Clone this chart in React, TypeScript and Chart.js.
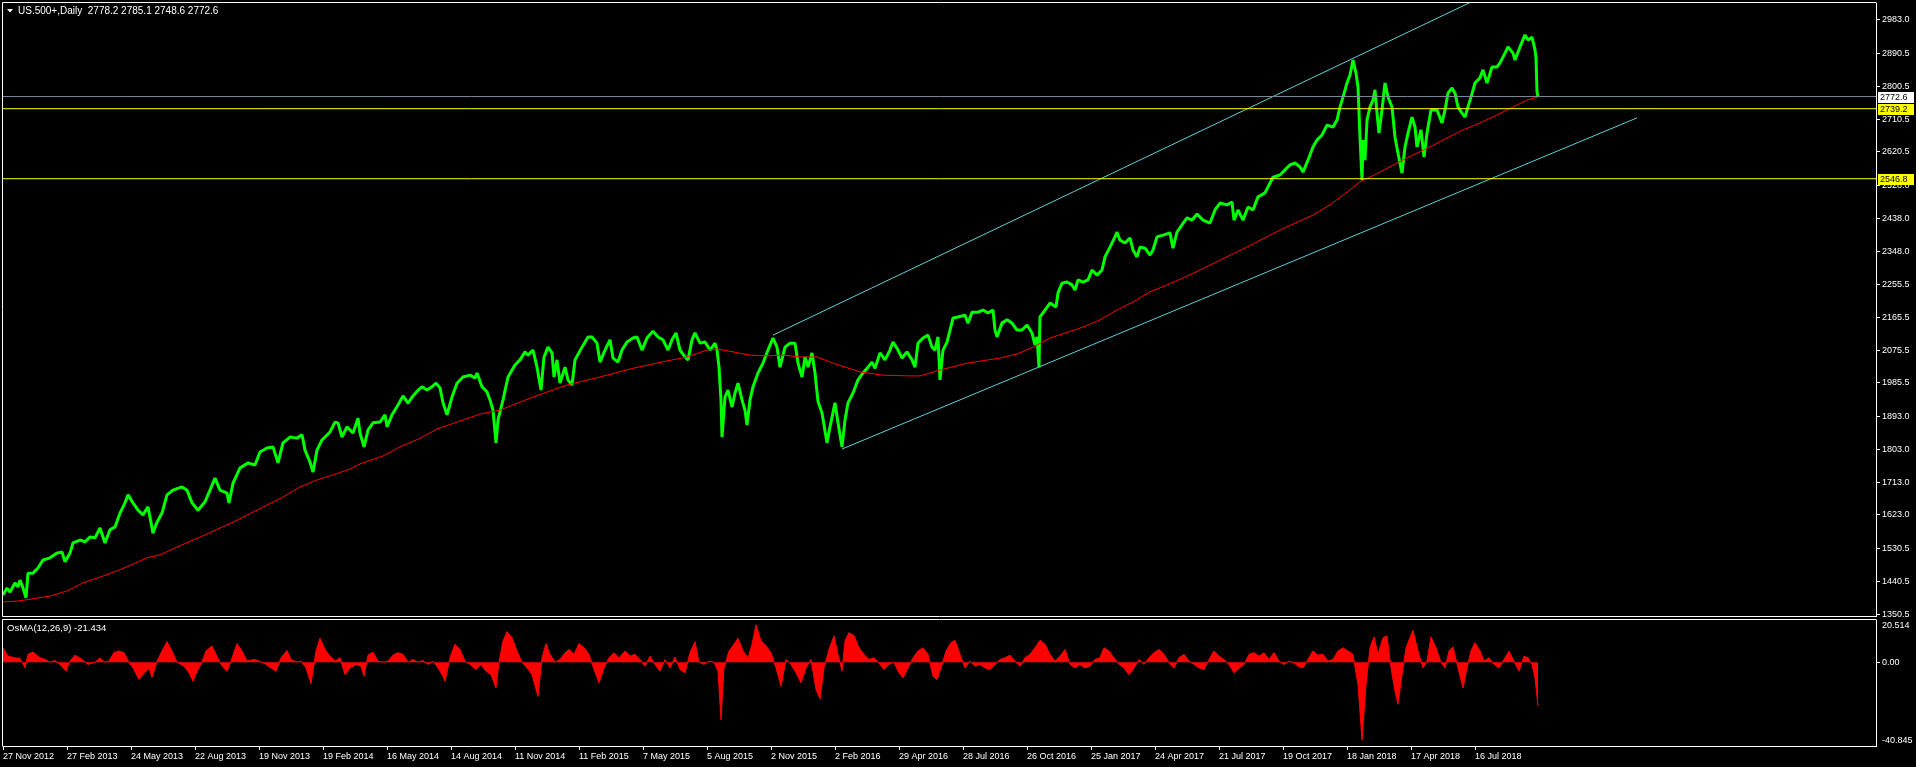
import React, { useEffect, useRef } from 'react';
import { Chart, registerables } from 'chart.js';

Chart.register(...registerables);

// ---------- data ----------
const symbolName = 'US.500+,Daily';
const headerOHLC = [2778.2, 2785.1, 2748.6, 2772.6];
const osmaName = 'OsMA(12,26,9)';
const osmaLast = -21.434;

// bar index (0 = 27 Nov 2012) and close
const priceBar = [
  0, 4, 7, 12, 15, 17, 20, 23, 25, 30, 35, 40, 47, 54, 59, 62, 67, 70, 77, 82, 87, 92, 97, 102, 107, 112, 117, 122, 125, 130,
  135, 140, 145, 150, 154, 159, 164, 170, 179, 184, 189, 195, 202, 207, 212, 217, 224, 226, 230, 237, 245, 252, 257, 264, 270,
  275, 280, 287, 294, 299, 302, 307, 310, 314, 319, 327, 332, 335, 339, 344, 350, 355, 357, 361, 365, 370, 377, 382, 384, 389,
  395, 400, 405, 410, 416, 419, 424, 429, 433, 437, 440, 444, 449, 454, 460, 467, 472, 474, 479, 484, 487, 490, 493, 495, 500,
  505, 512, 517, 522, 525, 530, 534, 538, 541, 545, 549, 551, 554, 557, 562, 565, 569, 572, 579, 585, 589, 594, 597, 602, 607,
  610, 615, 619, 624, 630, 634, 639, 644, 650, 655, 660, 665, 669, 673, 677, 682, 685, 689, 692, 697, 702, 707, 712, 714, 716,
  718, 719, 722, 725, 729, 732, 735, 739, 742, 744, 747, 750, 755, 760, 765, 770, 774, 777, 782, 787, 792, 795, 799, 802, 805,
  809, 812, 815, 819, 824, 827, 832, 835, 839, 842, 845, 850, 855, 860, 865, 869, 872, 877, 882, 887, 890, 895, 899, 904, 909,
  912, 915, 920, 925, 929, 932, 935, 937, 940, 944, 947, 950, 955, 962, 965, 969, 975, 980, 985, 990, 992, 994, 999, 1004, 1009,
  1014, 1019, 1024, 1029, 1032, 1034, 1036, 1037, 1042, 1047, 1053, 1055, 1059, 1064, 1069, 1072, 1075, 1080, 1085, 1089, 1094,
  1099, 1102, 1107, 1112, 1114, 1117, 1122, 1127, 1130, 1134, 1137, 1142, 1147, 1150, 1154, 1160, 1167, 1170, 1174, 1179, 1184,
  1189, 1194, 1200, 1207, 1212, 1217, 1224, 1229, 1231, 1235, 1240, 1245, 1250, 1255, 1262, 1265, 1270, 1277, 1282, 1287, 1292,
  1297, 1300, 1305, 1310, 1314, 1319, 1324, 1330, 1334, 1337, 1340, 1344, 1347, 1350, 1353, 1355, 1357, 1359, 1360, 1362, 1364,
  1367, 1370, 1372, 1374, 1376, 1379, 1382, 1385, 1389, 1390, 1392, 1395, 1399, 1402, 1405, 1409, 1412, 1414, 1418, 1421, 1424,
  1428, 1434, 1439, 1442, 1445, 1449, 1452, 1455, 1459, 1462, 1464, 1468, 1472, 1477, 1480, 1484, 1489, 1494, 1497, 1502, 1505,
  1510, 1512, 1517, 1522, 1525, 1529, 1532, 1533, 1534, 1535,
];
const priceClose = [
  1403, 1422, 1411, 1436, 1425, 1444, 1422, 1395, 1463, 1463, 1477, 1499, 1505, 1518, 1521, 1494, 1518, 1546, 1554, 1549, 1562,
  1560, 1587, 1546, 1582, 1590, 1628, 1656, 1678, 1656, 1636, 1623, 1645, 1573, 1603, 1628, 1678, 1691, 1700, 1691, 1656, 1636,
  1659, 1691, 1724, 1691, 1683, 1656, 1710, 1752, 1766, 1760, 1796, 1807, 1810, 1766, 1821, 1837, 1834, 1843, 1801, 1768, 1741,
  1801, 1829, 1851, 1878, 1876, 1837, 1865, 1848, 1889, 1848, 1810, 1856, 1876, 1878, 1898, 1865, 1898, 1925, 1950, 1930, 1950,
  1968, 1975, 1966, 1975, 1985, 1972, 1931, 1898, 1947, 1985, 2002, 2007, 1999, 2013, 1975, 1961, 1939, 1911, 1821, 1884, 1939,
  2002, 2035, 2049, 2071, 2062, 2076, 2029, 1966, 2057, 2084, 2068, 2002, 2049, 1985, 2029, 1994, 1980, 2049, 2084, 2112, 2112,
  2095, 2043, 2076, 2104, 2054, 2043, 2076, 2098, 2109, 2112, 2076, 2109, 2128, 2112, 2104, 2076, 2104, 2123, 2076, 2057, 2049,
  2104, 2123, 2095, 2098, 2076, 2095, 2076, 2029, 1939, 1837, 1947, 1966, 1920, 1958, 1985, 1939, 1911, 1870, 1939, 1975, 2013,
  2040, 2076, 2109, 2084, 2029, 2084, 2095, 2095, 2040, 2002, 2057, 2029, 2068, 2013, 1935, 1903, 1821, 1865, 1931, 1876, 1810,
  1884, 1931, 1958, 1994, 2013, 2029, 2043, 2026, 2068, 2049, 2076, 2098, 2076, 2054, 2071, 2049, 2029, 2095, 2109, 2117, 2084,
  2076, 2112, 1994, 2076, 2098, 2131, 2164, 2167, 2172, 2150, 2180, 2180, 2186, 2178, 2186, 2131, 2112, 2150, 2159, 2150, 2131,
  2131, 2145, 2123, 2090, 2112, 2029, 2167, 2186, 2205, 2194, 2233, 2260, 2263, 2255, 2241, 2269, 2263, 2269, 2296, 2282, 2296,
  2332, 2359, 2387, 2400, 2378, 2370, 2384, 2351, 2332, 2359, 2356, 2337, 2351, 2387, 2392, 2398, 2356, 2400, 2420, 2439, 2433,
  2450, 2433, 2425, 2461, 2480, 2475, 2483, 2433, 2461, 2433, 2469, 2461, 2497, 2508, 2524, 2551, 2557, 2571, 2585, 2590, 2579,
  2565, 2598, 2634, 2653, 2667, 2694, 2689, 2708, 2744, 2771, 2810, 2832, 2873, 2837, 2799, 2661, 2543, 2653, 2598, 2708, 2744,
  2763, 2791, 2727, 2672, 2736, 2810, 2771, 2744, 2716, 2661, 2617, 2562, 2634, 2672, 2716, 2689, 2634, 2681, 2606, 2672, 2736,
  2736, 2700, 2736, 2782, 2796, 2782, 2744, 2727, 2716, 2736, 2771, 2810, 2824, 2846, 2810, 2854, 2854, 2865, 2892, 2909, 2892,
  2873, 2909, 2942, 2928, 2936, 2901, 2880, 2785, 2772.6,
];

// moving average (red)
const maBar = [
  0, 14, 29, 47, 64, 80, 97, 114, 130, 144, 157, 174, 197, 230, 264, 280, 297, 314, 330, 347, 357, 380, 397, 416, 434, 477, 497,
  530, 564, 597, 630, 664, 684, 704, 714, 730, 747, 764, 780, 797, 814, 830, 857, 880, 907, 917, 937, 964, 997, 1014, 1030, 1047,
  1080, 1097, 1114, 1130, 1147, 1164, 1180, 1197, 1217, 1244, 1277, 1310, 1327, 1344, 1357, 1377, 1394, 1410, 1427, 1444, 1460,
  1477, 1494, 1510, 1524, 1535,
];
const maValue = [
  1384, 1386, 1392, 1400, 1414, 1436, 1452, 1469, 1488, 1505, 1513, 1535, 1562, 1603, 1650, 1672, 1700, 1719, 1733, 1749, 1763,
  1785, 1810, 1832, 1859, 1900, 1911, 1947, 1980, 2002, 2026, 2046, 2057, 2076, 2079, 2071, 2062, 2060, 2062, 2057, 2057, 2040,
  2016, 2007, 2005, 2005, 2021, 2040, 2054, 2065, 2084, 2109, 2139, 2159, 2186, 2208, 2236, 2255, 2274, 2296, 2323, 2359, 2406,
  2447, 2475, 2510, 2538, 2565, 2590, 2612, 2634, 2659, 2681, 2700, 2722, 2744, 2763, 2771,
];

// OsMA histogram
const osmaBar = [
  0, 5, 12, 17, 22, 25, 30, 37, 42, 47, 52, 57, 63, 67, 72, 79, 85, 92, 97, 101, 106, 111, 116, 121, 126, 131, 136, 141, 146, 149,
  154, 159, 164, 169, 174, 181, 186, 190, 194, 198, 203, 209, 213, 218, 224, 228, 234, 239, 244, 251, 256, 262, 268, 273, 278, 284,
  288, 294, 298, 303, 308, 313, 317, 322, 327, 332, 337, 342, 347, 353, 358, 361, 365, 370, 375, 381, 385, 390, 395, 400, 405, 410,
  415, 420, 425, 430, 435, 440, 442, 447, 452, 457, 462, 467, 473, 478, 483, 488, 493, 496, 500, 504, 509, 514, 519, 524, 529, 535,
  539, 543, 547, 552, 557, 561, 566, 571, 576, 581, 586, 591, 596, 601, 606, 611, 616, 622, 627, 632, 637, 642, 647, 652, 657, 662,
  667, 672, 677, 682, 687, 692, 696, 701, 706, 711, 715, 718, 721, 726, 731, 735, 740, 745, 749, 753, 758, 763, 768, 773, 778, 783,
  788, 793, 798, 803, 808, 813, 817, 821, 826, 831, 835, 839, 842, 846, 851, 856, 861, 866, 871, 877, 881, 886, 891, 895, 900, 905,
  910, 915, 920, 925, 930, 934, 938, 943, 948, 952, 957, 962, 967, 972, 977, 982, 987, 992, 997, 1002, 1007, 1012, 1017, 1022, 1027,
  1032, 1037, 1042, 1047, 1052, 1057, 1062, 1067, 1072, 1077, 1082, 1087, 1092, 1097, 1101, 1106, 1111, 1116, 1121, 1126, 1131,
  1136, 1141, 1146, 1151, 1156, 1161, 1166, 1171, 1176, 1181, 1186, 1191, 1196, 1201, 1206, 1211, 1216, 1221, 1226, 1231, 1236,
  1241, 1246, 1251, 1256, 1261, 1266, 1271, 1276, 1281, 1286, 1291, 1295, 1300, 1305, 1310, 1315, 1320, 1325, 1330, 1335, 1340,
  1345, 1350, 1355, 1359, 1363, 1367, 1371, 1375, 1380, 1384, 1388, 1392, 1395, 1399, 1403, 1407, 1410, 1415, 1420, 1424, 1428,
  1433, 1438, 1442, 1446, 1450, 1455, 1460, 1464, 1468, 1472, 1477, 1481, 1486, 1491, 1496, 1501, 1506, 1511, 1516, 1521, 1525,
  1529, 1532, 1535,
];
const osmaValue = [
  7.0, 2.9, 2.1, 1.8, -2.8, 3.8, 4.9, 2.1, 1.3, 0, 0.8, -1.1, -4.4, 0.5, 3.4, 1.3, -1.1, 0, 2.1, 0, 0.5, 4.6, 5.4, 4.6, 0, -3.6,
  -8.5, -5.2, -2.8, -7.4, 0.5, 5.4, 10.0, 5.4, 0, -2.0, -5.2, -9.3, -4.4, -1.1, 5.4, 7.9, 3.8, -1.1, -4.4, 0.5, 9.0, 5.4, 0.5,
  1.3, 0.5, -0.8, -2.8, -4.4, 2.1, 5.7, 1.3, 0, 0.5, -2.8, -10.5, 5.4, 11.6, 6.2, 2.9, 0.5, 2.1, -6.1, -2.8, -1.1, -2.0, -6.9,
  3.4, 4.9, 0.5, 0, 0.5, 3.4, 4.6, 3.8, 0, 1.3, 0, 0.8, -1.1, 0.5, -2.8, -6.9, -9.3, 2.1, 8.7, 6.2, 0.5, -1.1, -3.6, -1.1, -4.4,
  -6.1, -12.6, 0, 10.3, 14.9, 11.9, 5.4, 0, -2.8, -6.1, -16.7, 2.1, 9.0, 3.8, 0, 1.3, 4.1, 6.2, 3.8, 9.0, 7.0, 3.8, -3.6, -10.1,
  -2.8, 2.1, 4.6, 2.1, 5.4, 2.9, 3.8, 1.3, -2.0, 2.9, -1.1, -4.4, 1.3, -2.8, 2.5, -3.6, -5.2, 4.6, 10.0, 0, -1.1, 0.5, 0, -4.4,
  -28.1, -2.8, 5.4, 8.7, 11.6, 5.4, 2.1, 8.7, 18.2, 10.3, 7.9, 4.6, -2.8, -11.8, 1.3, -1.1, -5.2, -10.1, -2.8, 1.3, -13.4, -18.0,
  -2.8, 6.2, 12.8, 3.8, -4.4, 10.3, 14.4, 12.8, 7.0, 3.8, 1.3, 2.1, -1.1, -3.6, -1.1, 0, -4.4, -7.7, -2.8, 2.1, 5.4, 7.0, 3.8,
  -6.9, -8.5, -2.8, 5.4, 9.5, 10.6, 3.8, -2.8, 0.5, -2.0, -1.1, -2.8, -3.6, -1.1, 1.3, 2.1, 3.4, 0.5, -2.0, 2.1, 3.8, 7.0, 10.6,
  8.7, 3.8, 0.5, 2.9, 6.2, -1.1, -2.8, -1.1, -2.8, -2.0, 1.3, 2.1, 7.0, 5.4, 2.1, -1.1, -2.8, -6.1, -2.8, 1.3, -1.1, 2.1, 4.6,
  6.2, 3.8, -0.3, -2.8, 2.1, 3.8, 0.5, -1.1, -2.8, -3.6, 1.3, 5.4, 2.9, 1.3, -1.1, -5.2, -2.8, -1.1, 3.8, 4.6, 2.9, 4.6, 1.3,
  4.6, 0.5, -1.1, 0.5, -0.3, -2.0, -2.8, 1.3, 5.4, 3.4, 3.8, 0.5, 1.3, 5.4, 7.0, 5.4, 3.8, -11.0, -38.0, -11.0, 7.0, 12.3, 3.8,
  11.9, 12.8, -2.8, -14.2, -20.5, -6.1, 7.0, 11.9, 15.5, 5.4, -2.8, 0.5, 12.3, 7.0, 0, -2.8, 5.4, 7.4, -2.8, -12.6, -2.8, 5.4,
  9.5, 5.4, 0.5, 2.1, -1.1, -2.8, 1.3, 5.4, 0.5, -4.4, 2.9, 2.1, -1.1, -7.7, -21.4,
];

// trend lines (bar index, price)
const upperLineBar = [770, 1634];
const upperLinePrice = [2117, 3250];
const lowerLineBar = [839, 1634];
const lowerLinePrice = [1804, 2714];

// horizontal levels
const bidLevel = 2772.6;
const yellowLevels = [2739.2, 2546.8];

// axes
const priceTicks = [
  2983.0, 2890.5, 2800.5, 2710.5, 2620.5, 2528.0, 2438.0, 2348.0, 2255.5, 2165.5, 2075.5, 1985.5, 1893.0, 1803.0, 1713.0,
  1623.0, 1530.5, 1440.5, 1350.5,
];
const priceMin = 1345.2;
const priceMax = 3029.7;
const osmaTicks = [20.514, 0, -40.845];
const osmaTickLabels = ['20.514', '0.00', '-40.845'];
const dateTickBars = [0, 64, 128, 192, 256, 320, 384, 448, 512, 576, 640, 704, 768, 832, 896, 960, 1024, 1088, 1152, 1216, 1280, 1344, 1408, 1472];
const dateLabels = [
  '27 Nov 2012', '27 Feb 2013', '24 May 2013', '22 Aug 2013', '19 Nov 2013', '19 Feb 2014', '16 May 2014', '14 Aug 2014',
  '11 Nov 2014', '11 Feb 2015', '7 May 2015', '5 Aug 2015', '2 Nov 2015', '2 Feb 2016', '29 Apr 2016', '28 Jul 2016',
  '26 Oct 2016', '25 Jan 2017', '24 Apr 2017', '21 Jul 2017', '19 Oct 2017', '18 Jan 2018', '17 Apr 2018', '16 Jul 2018',
];
const barMax = 1873;

// ---------- styles ----------
const FONT = 'Liberation Sans';
const WHITE = '#ffffff';
const GREEN = '#00ff00';
const RED = '#ff0000';
const YELLOW = '#ffff00';
const CYAN = '#5fd0d8';
const BIDGRAY = '#7f8c99';

const zip = (xs: number[], ys: number[]) => xs.map((x, i) => ({ x, y: ys[i] }));

const fixBox = (w: number | null, h: number | null) => (s: any) => {
  if (w !== null) s.width = w;
  if (h !== null) s.height = h;
  s.paddingTop = 0;
  s.paddingBottom = 0;
  s.paddingLeft = 0;
  s.paddingRight = 0;
};

const mainDecor = {
  id: 'mainDecor',
  afterDraw(chart: any) {
    const { ctx, chartArea: a } = chart;
    const ys = chart.scales.y;
    ctx.save();
    ctx.strokeStyle = WHITE;
    ctx.lineWidth = 1;
    ctx.beginPath();
    ctx.moveTo(a.left - 0.5, a.bottom + 0.5);
    ctx.lineTo(a.left - 0.5, a.top - 0.5);
    ctx.lineTo(a.right + 0.5, a.top - 0.5);
    ctx.moveTo(a.left - 0.5, a.bottom + 0.5);
    ctx.lineTo(a.right + 0.5, a.bottom + 0.5);
    ctx.stroke();
    // header
    ctx.fillStyle = WHITE;
    ctx.beginPath();
    ctx.moveTo(7, 9);
    ctx.lineTo(13, 9);
    ctx.lineTo(10, 12.5);
    ctx.closePath();
    ctx.fill();
    ctx.font = `10px "${FONT}"`;
    ctx.textBaseline = 'alphabetic';
    ctx.textAlign = 'left';
    ctx.fillText(`${symbolName}  ${headerOHLC.map((v) => v.toFixed(1)).join(' ')}`, 18, 14);
    // level labels on the price axis
    const levels = [
      { v: bidLevel, bg: WHITE },
      ...yellowLevels.map((v) => ({ v, bg: YELLOW })),
    ];
    ctx.font = `9px "${FONT}"`;
    ctx.textBaseline = 'middle';
    for (const l of levels) {
      const y = Math.round(ys.getPixelForValue(l.v));
      ctx.fillStyle = l.bg;
      ctx.fillRect(a.right + 2, y - 5, 36, 11);
      ctx.fillStyle = '#000';
      ctx.fillText(l.v.toFixed(1), a.right + 4, y + 0.5);
    }
    ctx.restore();
  },
};

const oscDecor = {
  id: 'oscDecor',
  afterDraw(chart: any) {
    const { ctx, chartArea: a } = chart;
    ctx.save();
    ctx.strokeStyle = WHITE;
    ctx.lineWidth = 1;
    ctx.beginPath();
    ctx.moveTo(a.left - 0.5, a.bottom + 0.5);
    ctx.lineTo(a.left - 0.5, a.top - 0.5);
    ctx.lineTo(a.right + 0.5, a.top - 0.5);
    ctx.stroke();
    ctx.fillStyle = WHITE;
    ctx.font = `9.5px "${FONT}"`;
    ctx.textBaseline = 'alphabetic';
    ctx.textAlign = 'left';
    ctx.fillText(`${osmaName} ${osmaLast.toFixed(3)}`, 7, 12.5);
    ctx.restore();
  },
};

export default function App() {
  const mainRef = useRef<HTMLCanvasElement>(null);
  const oscRef = useRef<HTMLCanvasElement>(null);

  useEffect(() => {
    const lineBase = { pointRadius: 0, tension: 0, clip: 0, spanGaps: true };
    const main = new Chart(mainRef.current as HTMLCanvasElement, {
      type: 'line',
      data: {
        datasets: [
          { ...lineBase, label: 'bid', data: [{ x: 0, y: bidLevel }, { x: barMax, y: bidLevel }], borderColor: BIDGRAY, borderWidth: 1, order: 1 },
          ...yellowLevels.map((v) => ({ ...lineBase, label: 'lvl' + v, data: [{ x: 0, y: v }, { x: barMax, y: v }], borderColor: YELLOW, borderWidth: 1, order: 2 })),
          { ...lineBase, label: 'upper', data: zip(upperLineBar, upperLinePrice), borderColor: CYAN, borderWidth: 1, order: 3 },
          { ...lineBase, label: 'lower', data: zip(lowerLineBar, lowerLinePrice), borderColor: CYAN, borderWidth: 1, order: 3 },
          { ...lineBase, label: 'ma', data: zip(maBar, maValue), borderColor: RED, borderWidth: 1, order: 4 },
          { ...lineBase, label: 'price', data: zip(priceBar, priceClose), borderColor: GREEN, borderWidth: 3, borderJoinStyle: 'bevel', order: 5 },
        ] as any,
      },
      options: {
        animation: false,
        responsive: false,
        events: [],
        layout: { padding: { left: 3, top: 3, right: 0, bottom: 2 } },
        plugins: { legend: { display: false }, tooltip: { enabled: false } },
        scales: {
          x: { type: 'linear', min: 0, max: barMax, display: false },
          y: {
            type: 'linear',
            position: 'right',
            min: priceMin,
            max: priceMax,
            afterFit: fixBox(40, null),
            afterBuildTicks: (s: any) => { s.ticks = priceTicks.map((v) => ({ value: v })); },
            ticks: { color: WHITE, font: { family: FONT, size: 9 }, padding: 2, callback: (v: any) => Number(v).toFixed(1) },
            grid: { drawOnChartArea: false, drawTicks: true, tickLength: 4, color: WHITE, tickColor: WHITE },
            border: { display: true, color: WHITE, width: 1 },
          },
        },
      } as any,
      plugins: [mainDecor],
    });

    const osc = new Chart(oscRef.current as HTMLCanvasElement, {
      type: 'line',
      data: {
        datasets: [
          {
            label: 'osma',
            data: zip(osmaBar, osmaValue),
            borderColor: RED,
            backgroundColor: RED,
            borderWidth: 1,
            fill: 'origin',
            pointRadius: 0,
            tension: 0,
            clip: 0,
          },
        ] as any,
      },
      options: {
        animation: false,
        responsive: false,
        events: [],
        layout: { padding: { left: 3, top: 2, right: 0, bottom: 0 } },
        plugins: { legend: { display: false }, tooltip: { enabled: false } },
        scales: {
          x: {
            type: 'linear',
            min: 0,
            max: barMax,
            afterFit: fixBox(null, 21),
            afterBuildTicks: (s: any) => { s.ticks = dateTickBars.map((v) => ({ value: v })); },
            ticks: {
              autoSkip: false, maxRotation: 0, minRotation: 0, align: 'start', color: WHITE,
              font: { family: FONT, size: 9 }, padding: 1,
              callback: (_v: any, i: number) => dateLabels[i],
            },
            grid: { drawOnChartArea: false, drawTicks: true, tickLength: 4, color: WHITE, tickColor: WHITE },
            border: { display: true, color: WHITE, width: 1 },
          },
          y: {
            type: 'linear',
            position: 'right',
            min: osmaTicks[2],
            max: osmaTicks[0],
            afterFit: fixBox(40, null),
            afterBuildTicks: (s: any) => { s.ticks = osmaTicks.map((v) => ({ value: v })); },
            ticks: {
              color: WHITE, font: { family: FONT, size: 9 }, padding: 2,
              callback: (_v: any, i: number) => (i === 0 ? ['', osmaTickLabels[0]] : i === 2 ? [osmaTickLabels[2], ''] : osmaTickLabels[i]),
            },
            grid: {
              drawOnChartArea: false, drawTicks: true, tickLength: 4, color: WHITE,
              tickColor: (c: any) => (c.tick && c.tick.value === 0 ? WHITE : 'rgba(0,0,0,0)'),
            },
            border: { display: true, color: WHITE, width: 1 },
          },
        },
      } as any,
      plugins: [oscDecor],
    });

    return () => {
      main.destroy();
      osc.destroy();
    };
  }, []);

  return (
    <div style={{ position: 'fixed', left: 0, top: 0, width: 1916, height: 767, background: '#000', overflow: 'hidden' }}>
      <canvas ref={mainRef} width={1916} height={618} style={{ position: 'absolute', left: 0, top: 0, width: 1916, height: 618 }} />
      <canvas ref={oscRef} width={1916} height={149} style={{ position: 'absolute', left: 0, top: 618, width: 1916, height: 149 }} />
    </div>
  );
}
